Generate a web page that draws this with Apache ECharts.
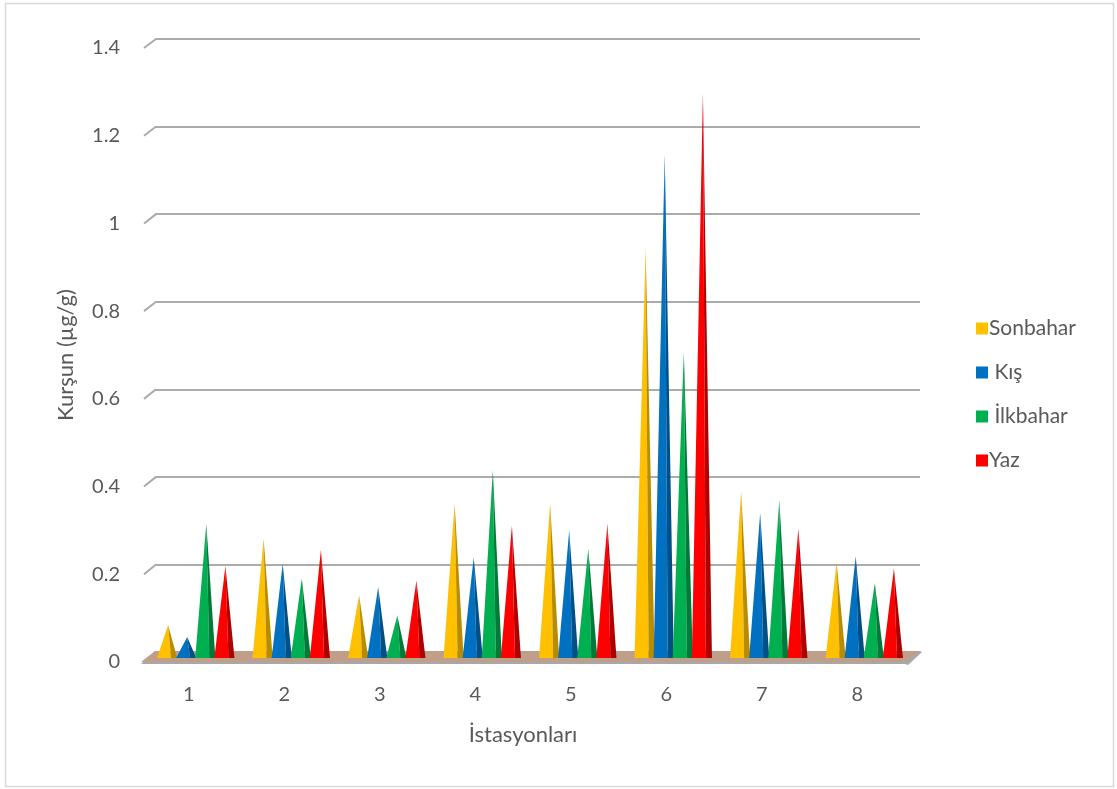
<!DOCTYPE html>
<html>
<head>
<meta charset="utf-8">
<script src="https://cdn.jsdelivr.net/npm/echarts@6/dist/echarts.min.js"></script>
<style>
html,body{margin:0;padding:0;background:#fff;}
#c{width:1117px;height:789px;}
</style>
</head>
<body>
<div id="c"></div>
<script>
const categories = ['1','2','3','4','5','6','7','8'];
const seriesNames = ['Sonbahar', ' Kış', ' İlkbahar', 'Yaz'];
const sonbahar = [0.075, 0.272, 0.143, 0.352, 0.352, 0.935, 0.379, 0.217];
const kis      = [0.048, 0.215, 0.162, 0.230, 0.291, 1.148, 0.331, 0.232];
const ilkbahar = [0.306, 0.181, 0.097, 0.428, 0.249, 0.698, 0.360, 0.171];
const yaz      = [0.210, 0.246, 0.176, 0.301, 0.306, 1.288, 0.295, 0.204];
const yTicks = [0, 0.2, 0.4, 0.6, 0.8, 1.0, 1.2, 1.4];

const colors = ['#FFC000', '#0070C0', '#00B050', '#FF0000'];
const darks  = ['#B98C00', '#004F87', '#007A38', '#B00000'];
const allData = [sonbahar, kis, ilkbahar, yaz];

const FONT = 'Lato, "Open Sans", sans-serif';
const TXT = '#595959';

// layout (front plane, back wall, mid plane)
const FRONT = {left: 141, right: 1117 - 905, top: 48, bottom: 789 - 662};
const BACK  = {left: 155, right: 1117 - 920, top: 39, bottom: 789 - 652};
const MID   = {left: 148, right: 1117 - 912, top: 44, bottom: 789 - 658};

const GROUP_FRAC = 0.8;

function makeRender(si) {
  return function (params, api) {
    const cat = api.value(0);
    const v = api.value(1);
    const base = api.coord([cat, 0]);
    const top = api.coord([cat, v]);
    const band = api.size([1, 0])[0];
    const gw = band * GROUP_FRAC;
    const w = gw / 4;
    const x0 = base[0] - gw / 2 + si * w - 0.5;
    const x1 = x0 + w + 1;
    const xs = x0 + (x1 - x0) * 0.7;
    const xt = x0 + (x1 - x0) * 0.55;
    return {
      type: 'group',
      children: [
        {type: 'polygon', shape: {points: [[x0, base[1]], [xs, base[1]], [xt, top[1]]]},
          style: {fill: colors[si]}},
        {type: 'polygon', shape: {points: [[xs, base[1]], [x1, base[1]], [xt, top[1]]]},
          style: {fill: darks[si]}}
      ]
    };
  };
}

const chart = echarts.init(document.getElementById('c'));

const yBase = {type: 'value', min: 0, max: 1.4, interval: 0.2};

const option = {
  backgroundColor: '#ffffff',
  animation: false,
  textStyle: {fontFamily: FONT},
  grid: [
    Object.assign({}, BACK),
    Object.assign({}, FRONT),
    Object.assign({}, MID)
  ],
  xAxis: [
    {type: 'category', data: categories, gridIndex: 0, show: false},
    {type: 'category', data: categories, gridIndex: 1,
      axisLine: {show: false}, axisTick: {show: false},
      axisLabel: {color: TXT, fontSize: 20, margin: 23, fontFamily: FONT},
      name: 'İstasyonları', nameLocation: 'middle', nameGap: 62,
      nameTextStyle: {color: TXT, fontSize: 22, fontFamily: FONT}},
    {type: 'category', data: categories, gridIndex: 2, show: false}
  ],
  yAxis: [
    Object.assign({}, yBase, {gridIndex: 0, axisLabel: {show: false}, axisLine: {show: false}, axisTick: {show: false},
      splitLine: {show: true, lineStyle: {color: '#ABABAB', width: 2}}}),
    Object.assign({}, yBase, {gridIndex: 1, axisLine: {show: false}, axisTick: {show: false},
      splitLine: {show: false},
      axisLabel: {color: TXT, fontSize: 20, margin: 21, fontFamily: FONT,
        formatter: function (v) { return String(Math.round(v * 10) / 10); }},
      name: 'Kurşun (µg/g)', nameLocation: 'middle', nameGap: 64, nameRotate: 90,
      nameTextStyle: {color: TXT, fontSize: 22, fontFamily: FONT}}),
    Object.assign({}, yBase, {gridIndex: 2, show: false, splitLine: {show: false}})
  ],
  legend: {
    orient: 'vertical', left: 971, top: 313, itemGap: 23,
    itemWidth: 12, itemHeight: 12, icon: 'rect',
    textStyle: {color: TXT, fontSize: 21, fontFamily: FONT, padding: [0, 0, 0, -4]},
    data: seriesNames
  },
  series: seriesNames.map(function (name, si) {
    return {
      name: name, type: 'custom', xAxisIndex: 2, yAxisIndex: 2,
      itemStyle: {color: colors[si]},
      renderItem: makeRender(si),
      data: allData[si].map(function (v, i) { return [i, v]; }),
      z: 5
    };
  })
};

chart.setOption(option);

// 3D decorations computed from the axes' own scales
const yF = function (v) { return chart.convertToPixel({yAxisIndex: 1}, v); };
const yB = function (v) { return chart.convertToPixel({yAxisIndex: 0}, v); };
const fl = FRONT.left, fr = 1117 - FRONT.right;
const bl = BACK.left, br = 1117 - BACK.right;
const els = [];
yTicks.forEach(function (t) {
  if (t === 0) return;
  els.push({type: 'polyline', z: 1, shape: {points: [[fl + 3, yF(t)], [bl + 1, yB(t)]]},
    style: {stroke: '#ABABAB', lineWidth: 2, fill: null}});
});
const y0f = yF(0), y0b = yB(0);
els.push({type: 'polygon', z: 2, shape: {points: [[fl, y0f + 2], [fr, y0f + 2], [fr + 3, y0f + 3], [br + 2, y0b], [br, y0b - 1], [bl, y0b - 1]]},
  style: {fill: '#A8A8A8'}});
els.push({type: 'polygon', z: 3, shape: {points: [[fl, y0f], [fr, y0f], [br, y0b - 1], [bl, y0b - 1]]},
  style: {fill: '#BF9F8A'}});
els.push({type: 'rect', z: 0, shape: {x: 5.5, y: 3.5, width: 1108, height: 783},
  style: {fill: null, stroke: '#D9D9D9', lineWidth: 1.5}});
chart.setOption({graphic: {elements: els}});
</script>
</body>
</html>
